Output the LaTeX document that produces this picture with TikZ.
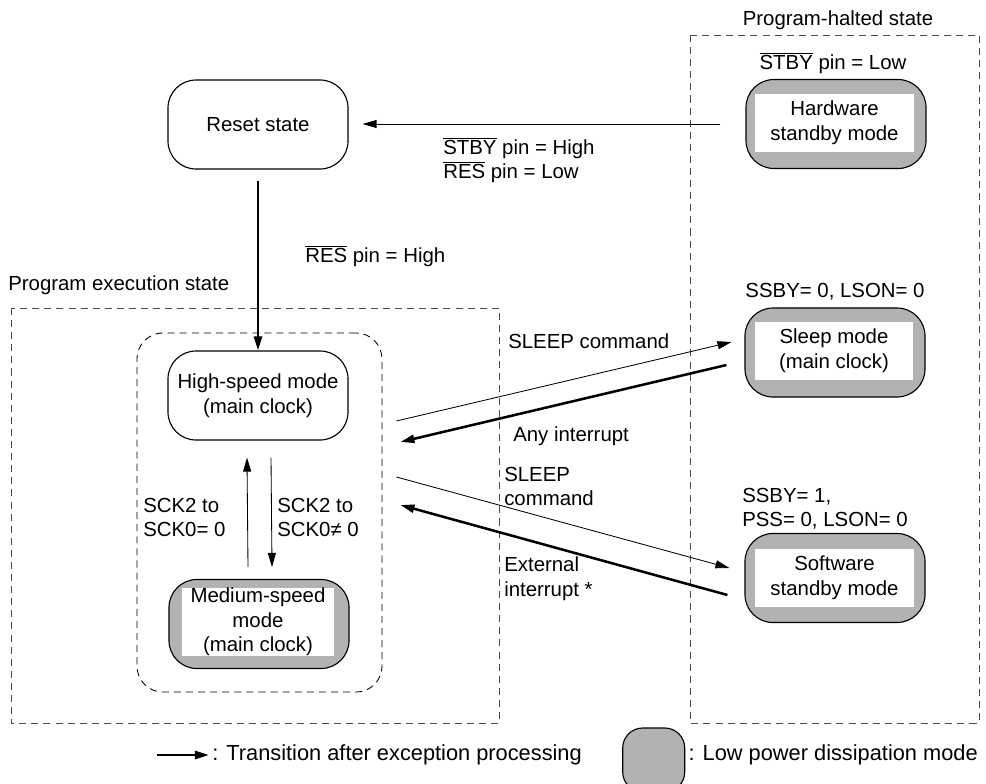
\documentclass[tikz,border=0pt]{standalone}
\usepackage{fontspec}
\setmainfont{Liberation Sans}
\usetikzlibrary{arrows.meta,calc}

\newcommand{\pinbar}[1]{$\overline{\hbox{#1}}$}

\begin{document}
\begin{tikzpicture}[
  x=0.025cm, y=-0.025cm,
  font=\fontsize{14.5}{17.5}\selectfont,
  state/.style={rectangle, draw, line width=0.8pt, rounded corners=0.7cm, minimum width=4.5cm, minimum height=2.225cm, align=center},
  lowpow/.style={state, fill=black!30},
  inbox/.style={rectangle, fill=white, inner sep=0pt, minimum width=3.95cm, minimum height=1.45cm, align=center},
  lbl/.style={inner sep=0pt, anchor=west, align=left},
  legend/.style={lbl, font=\fontsize{15.5}{18}\selectfont},
  region/.style={draw=black!70, line width=0.6pt, dash pattern=on 5pt off 3.6pt},
  arr/.style={-{Triangle[length=0.35cm, width=0.2cm]}, line width=0.6pt},
  thk/.style={-{Triangle[length=0.35cm, width=0.2cm]}, line width=1.8pt},
]
  \useasboundingbox (0,0) rectangle (986,783);

  % program-halted state
  \draw[region] (690,35) rectangle (979,723);
  \node (haltlbl) at (838,20) {Program-halted state};

  \node[lowpow] (hw) at (836,124) {};
  \node[inbox] (hwtxt) at (834.5,123) {Hardware\\standby mode};
  \node (hwcond) at (833,63) {\pinbar{STBY} pin = Low};

  \node[lowpow] (sleep) at (835,352.5) {};
  \node[inbox] (sleeptxt) at (834,351) {Sleep mode\\(main clock)};
  \node (sleepcond) at (835,292) {SSBY= 0, LSON= 0};

  \node[lowpow] (sw) at (835,578) {};
  \node[inbox] (swtxt) at (834.5,577.5) {Software\\standby mode};
  \node[lbl] (swcond) at (742,508.5) {SSBY= 1,\\PSS= 0, LSON= 0};

  % reset
  \node[state] (reset) at (258,124.5) {Reset state};

  % program execution state
  \draw[region] (11,308) rectangle (499,723);
  \node[lbl] (execlbl) at (8,285) {Program execution state};
  \node[draw, line width=0.6pt, dash pattern=on 5pt off 3.6pt, rounded corners=0.65cm,
        minimum width=6.125cm, minimum height=8.975cm] (mainclk) at (259.5,512.5) {};

  \node[state] (high) at (258,395.5) {High-speed mode\\(main clock)};
  \node[lowpow] (medium) at (259,624) {};
  \node[inbox, minimum width=3.8cm, minimum height=1.7cm] (mediumtxt) at (258,622) {Medium-speed\\mode\\(main clock)};

  % transitions
  \draw[arr, shorten <=25*0.025cm, shorten >=14*0.025cm] (hw.west) -- (hw.west -| reset.east);
  \node[lbl] (hwout) at (443,160) {\pinbar{STBY} pin = High\\\pinbar{RES} pin = Low};

  \draw[thk, shorten <=11*0.025cm] (reset.south) -- (high.north);
  \node[lbl] (resout) at (305,256) {\pinbar{RES} pin = High};

  \draw[arr] ($(medium.north)+(-11,-12)$) -- ($(high.south)+(-11,17)$);
  \draw[arr] ($(high.south)+(13,17)$) -- ($(medium.north)+(13,-12)$);
  \node[lbl] (uplbl) at (143,517.5) {SCK2 to\\SCK0= 0};
  \node[lbl] (downlbl) at (277,517.5) {SCK2 to\\SCK0≠ 0};

  \draw[arr] ($(mainclk.east)+(14,-91.5)$) -- ($(sleep.west)+(-13,-10.5)$);
  \draw[thk] ($(sleep.west)+(-18,12.5)$) -- ($(mainclk.east)+(18,-70.5)$);
  \node[lbl] (sleepcmd) at (508,341) {SLEEP command};
  \node[lbl] (anyint) at (513,436) {Any interrupt};

  \draw[arr] ($(mainclk.east)+(14,-35.5)$) -- ($(sw.west)+(-15,-10)$);
  \draw[thk] ($(sw.west)+(-17,17)$) -- ($(mainclk.east)+(18,-7.5)$);
  \node[lbl] (sleepcmd2) at (504,486.5) {SLEEP\\command};
  \node[lbl] (extint) at (504,578.5) {External\\interrupt *};

  % legend
  \node[legend] (lgarr) at (212,755) {: Transition after exception processing};
  \draw[thk] ($(lgarr.west)+(-55,0)$) -- ($(lgarr.west)+(-3,0)$);
  \node[legend, anchor=east] (lglow) at (978,755) {: Low power dissipation mode};
  \begin{scope}
    \clip (0,0) rectangle (986,783);
    \node[draw, line width=0.8pt, fill=black!30, rounded corners=0.5cm,
          minimum width=1.55cm, minimum height=1.6cm, anchor=east] (lgbox) at ($(lglow.west)+(-3,5)$) {};
  \end{scope}
\end{tikzpicture}
\end{document}
